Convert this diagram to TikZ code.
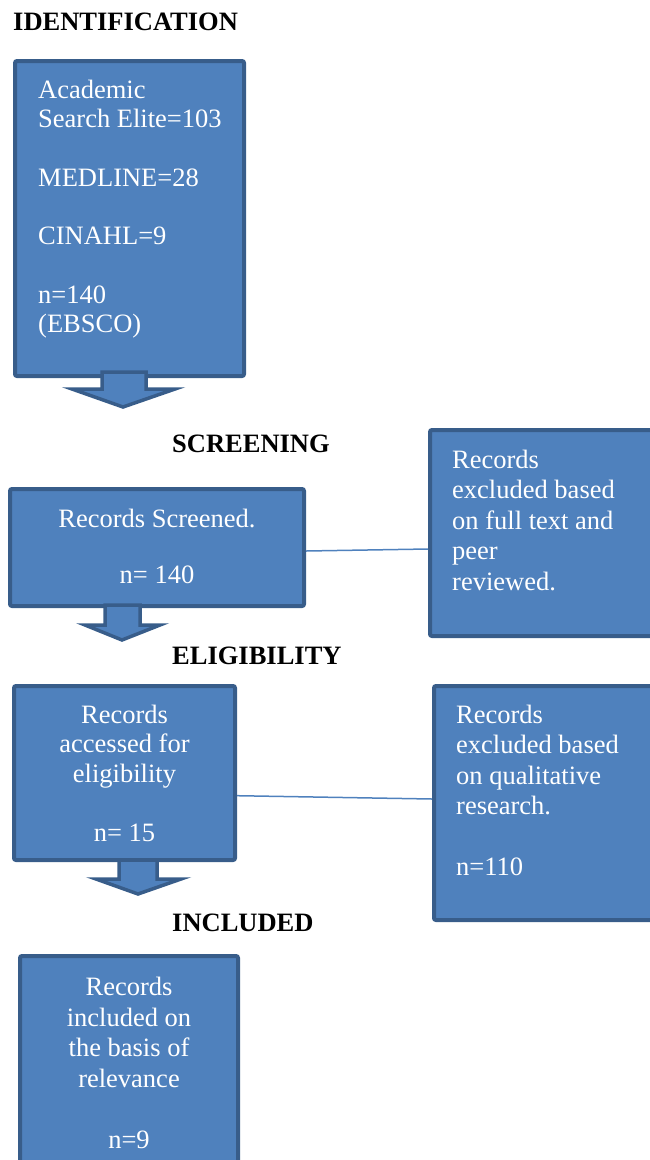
\documentclass[tikz,border=0pt]{standalone}
\usepackage{fontspec}
\setmainfont{Liberation Serif}
\usepackage{tikz}
\usetikzlibrary{arrows.meta}
\definecolor{boxfill}{HTML}{4F81BD}
\definecolor{boxline}{HTML}{385D8A}
\tikzset{
  prismabox/.style={draw=boxline, fill=boxfill, line width=4pt, rounded corners=2pt, inner sep=0pt},
  boxtext/.style={text=white, inner sep=0pt, font=\fontsize{26.5}{30}\selectfont},
  stagetitle/.style={anchor=base west, inner sep=0pt, font=\fontsize{26.5}{30}\selectfont\bfseries},
  blockarrow/.style={draw=boxline, fill=boxfill, line width=3.5pt},
  link/.style={draw=boxfill, line width=1.5pt}
}

\begin{document}
\begin{tikzpicture}[x=1pt,y=-1pt]
        \useasboundingbox (0,0) rectangle (649,1160);
        \node[stagetitle] (tident) at (13,30) {IDENTIFICATION};
        \node[stagetitle] (tscreen) at (172,452) {SCREENING};
        \node[stagetitle] (telig) at (172,664) {ELIGIBILITY};
        \node[stagetitle] (tincl) at (172,931) {INCLUDED};

        \node[prismabox, minimum width=229, minimum height=315] (ident) at (129.5,218.5) {};
        \node[prismabox, minimum width=294, minimum height=117] (screen) at (157,547.5) {};
        \node[prismabox, minimum width=235, minimum height=206] (excla) at (547.5,533) {};
        \node[prismabox, minimum width=221, minimum height=174] (elig) at (124.5,773) {};
        \node[prismabox, minimum width=231, minimum height=234] (exclb) at (549.5,803) {};
        \node[prismabox, minimum width=218, minimum height=224] (incl) at (129,1068) {};

        \node[boxtext, align=left, anchor=north west, font=\fontsize{26.5}{29.3}\selectfont] (identtxt) at (38,79.9)
          {Academic\\ Search Elite=103\\ \mbox{}\\ MEDLINE=28\\ \mbox{}\\ CINAHL=9\\ \mbox{}\\ n=140\\ (EBSCO)};
        \node[boxtext, align=center, anchor=north, font=\fontsize{26.5}{28}\selectfont] (screentxt) at (157,508.9)
          {Records Screened.\\ \mbox{}\\ n= 140};
        \node[boxtext, align=left, anchor=north west, font=\fontsize{26.5}{30.5}\selectfont] (exclatxt) at (452,449.9)
          {Records\\ excluded based\\ on full text and\\ peer\\ reviewed.};
        \node[boxtext, align=center, anchor=north, font=\fontsize{26.5}{29.5}\selectfont] (eligtxt) at (124.5,704.9)
          {Records\\ accessed for\\ eligibility\\ \mbox{}\\ n= 15};
        \node[boxtext, align=left, anchor=north west, font=\fontsize{26.5}{30.4}\selectfont] (exclbtxt) at (456,704.9)
          {Records\\ excluded based\\ on qualitative\\ research.\\ \mbox{}\\ n=110};
        \node[boxtext, align=center, anchor=north, font=\fontsize{26.5}{30.5}\selectfont] (incltxt) at (129,976.9)
          {Records\\ included on\\ the basis of\\ relevance\\ \mbox{}\\ n=9};

        \draw[link] ([yshift=-3.5pt]screen.east) -- ([yshift=-16pt]excla.west);
        \draw[link] ([yshift=-22.7pt]elig.east) -- ([yshift=4pt]exclb.west);

        \draw[blockarrow] (102,372) -- (146,372) -- (146,389) -- (175,389) -- (123,407) -- (72,389) -- (102,389) -- cycle;
        \draw[blockarrow] (105,605) -- (140,605) -- (140,625) -- (160,625) -- (122,640) -- (85,625) -- (105,625) -- cycle;
        \draw[blockarrow] (119,860) -- (157,860) -- (157,879) -- (181,879) -- (138,894) -- (96,879) -- (119,879) -- cycle;
      \end{tikzpicture}
\end{document}
